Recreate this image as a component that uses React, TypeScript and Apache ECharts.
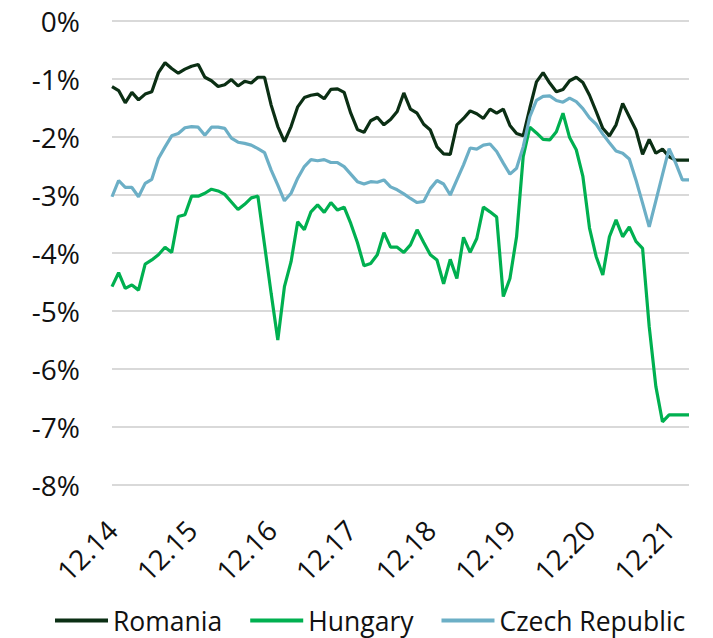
import React, { useEffect, useRef } from "react";
import * as echarts from "echarts";

// Monthly observations, Dec 2014 .. Mar 2022
const START_YEAR = 2014;
const START_MONTH = 12;
const N_POINTS = 88;

const romania = [
  -1.13, -1.2, -1.41, -1.23, -1.36, -1.26, -1.22, -0.89, -0.72, -0.82, -0.9, -0.83,
  -0.78, -0.75, -0.97, -1.03, -1.13, -1.1, -1.01, -1.12, -1.04, -1.07, -0.97, -0.97,
  -1.45, -1.82, -2.08, -1.82, -1.48, -1.32, -1.28, -1.26, -1.34, -1.18, -1.17, -1.23,
  -1.59, -1.87, -1.92, -1.72, -1.66, -1.79, -1.7, -1.56, -1.24, -1.52, -1.59, -1.78,
  -1.88, -2.17, -2.29, -2.3, -1.79, -1.68, -1.55, -1.6, -1.68, -1.52, -1.59, -1.52,
  -1.8, -1.94, -1.98, -1.5, -1.05, -0.89, -1.07, -1.22, -1.18, -1.03, -0.97, -1.06,
  -1.28, -1.56, -1.85, -1.98, -1.79, -1.42, -1.65, -1.88, -2.3, -2.04, -2.28, -2.21,
  -2.34, -2.4, -2.4, -2.4,
];

const hungary = [
  -4.58, -4.34, -4.61, -4.55, -4.64, -4.19, -4.12, -4.03, -3.9, -3.99, -3.37, -3.34,
  -3.02, -3.02, -2.97, -2.9, -2.93, -2.99, -3.12, -3.25, -3.16, -3.05, -3.02, -3.86,
  -4.7, -5.5, -4.58, -4.15, -3.46, -3.6, -3.29, -3.17, -3.3, -3.13, -3.26, -3.21,
  -3.49, -3.82, -4.22, -4.18, -4.03, -3.65, -3.9, -3.9, -3.99, -3.86, -3.6, -3.82,
  -4.03, -4.12, -4.53, -4.11, -4.44, -3.73, -3.99, -3.75, -3.21, -3.29, -3.38, -4.75,
  -4.44, -3.72, -2.34, -1.83, -1.93, -2.04, -2.05, -1.91, -1.59, -2.01, -2.22, -2.68,
  -3.57, -4.06, -4.38, -3.72, -3.43, -3.72, -3.55, -3.8, -3.92, -5.27, -6.3, -6.91,
  -6.79, -6.79, -6.79, -6.79,
];

const czech = [
  -3.03, -2.75, -2.87, -2.87, -3.03, -2.8, -2.73, -2.37, -2.17, -1.98, -1.94, -1.84,
  -1.82, -1.83, -1.97, -1.83, -1.83, -1.85, -2.02, -2.09, -2.11, -2.14, -2.2, -2.27,
  -2.57, -2.83, -3.1, -2.97, -2.71, -2.51, -2.39, -2.41, -2.39, -2.44, -2.44, -2.51,
  -2.64, -2.77, -2.81, -2.77, -2.78, -2.74, -2.86, -2.91, -2.98, -3.06, -3.13, -3.11,
  -2.89, -2.75, -2.81, -3.0, -2.74, -2.48, -2.19, -2.21, -2.14, -2.12, -2.25, -2.45,
  -2.64, -2.54, -2.17, -1.65, -1.37, -1.3, -1.29, -1.37, -1.4, -1.33, -1.39, -1.51,
  -1.67, -1.78, -1.95, -2.1, -2.24, -2.28, -2.38, -2.74, -3.14, -3.55, -3.1, -2.65,
  -2.2, -2.45, -2.74, -2.74,
];

const seriesNames = ["Romania", "Hungary", "Czech Republic"];
const seriesColors = ["#0b2f14", "#00b050", "#6cafc6"];

// category labels "MM.YY"
const categories: string[] = [];
for (let i = 0; i < N_POINTS; i++) {
  const m0 = START_MONTH - 1 + i;
  const y = START_YEAR + Math.floor(m0 / 12);
  const m = (m0 % 12) + 1;
  categories.push(String(m).padStart(2, "0") + "." + String(y % 100).padStart(2, "0"));
}

const FONT = "'Open Sans', 'Noto Sans', sans-serif";

export default function App() {
  const ref = useRef<HTMLDivElement>(null);
  useEffect(() => {
    if (!ref.current) return;
    const chart = echarts.init(ref.current, undefined, { renderer: "svg" });
    const data = [romania, hungary, czech];
    chart.setOption({
      animation: false,
      backgroundColor: "#ffffff",
      grid: { left: 112, right: 24, top: 21, bottom: 153, containLabel: false },
      legend: {
        left: 55,
        top: 607,
        padding: 0,
        icon: "rect",
        itemWidth: 53,
        itemHeight: 4,
        itemGap: 28,
        data: seriesNames,
        textStyle: { fontFamily: FONT, fontSize: 26.5, color: "#111111" },
      },
      xAxis: {
        type: "category",
        data: categories,
        boundaryGap: false,
        axisLine: { show: false },
        axisTick: { show: false },
        splitLine: { show: false },
        axisLabel: {
          interval: 11,
          rotate: 45,
          margin: 40,
          fontFamily: FONT,
          fontSize: 28,
          color: "#111111",
          formatter: (v: string) => (v.startsWith("12.") ? v : ""),
        },
      },
      yAxis: {
        type: "value",
        min: -8,
        max: 0,
        interval: 1,
        axisLine: { show: false },
        axisTick: { show: false },
        splitLine: { show: true, lineStyle: { color: "#d9d9d9", width: 2 } },
        axisLabel: {
          margin: 32,
          fontFamily: FONT,
          fontSize: 28,
          color: "#111111",
          formatter: (v: number) => `${v}%`,
        },
      },
      series: seriesNames.map((name, k) => ({
        name,
        type: "line",
        data: data[k],
        symbol: "none",
        smooth: false,
        lineStyle: { color: seriesColors[k], width: 3.2 },
        itemStyle: { color: seriesColors[k] },
      })),
    });
    return () => chart.dispose();
  }, []);
  return (
    <div
      ref={ref}
      style={{ position: "fixed", left: 0, top: 0, width: 713, height: 638 }}
    />
  );
}
